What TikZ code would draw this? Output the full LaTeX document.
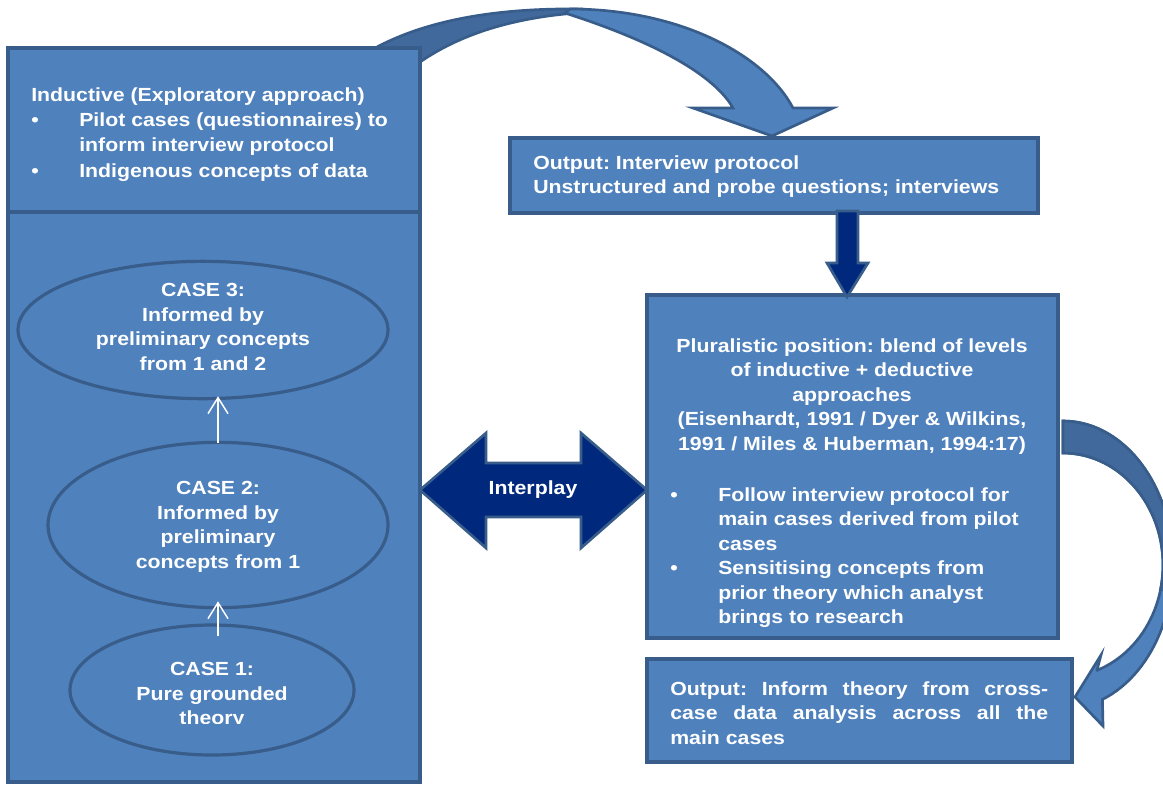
\documentclass[tikz,border=0pt]{standalone}
\usepackage{fontspec}
\setmainfont{Liberation Sans}[FakeStretch=1.12]
\usetikzlibrary{fit,shapes.geometric,arrows.meta}
\definecolor{boxfill}{HTML}{4F81BD}
\definecolor{boxline}{HTML}{385D8A}
\definecolor{ribbon}{HTML}{41699C}
\definecolor{navy}{HTML}{00297E}
\newcommand\diagfont{\fontsize{14.25pt}{18.4pt}\selectfont\bfseries\frenchspacing}
\begin{document}
\begin{tikzpicture}[x=0.75pt,y=-0.75pt,
  panel/.style={draw=boxline,fill=boxfill,line width=2.4pt,inner sep=0pt},
  oval/.style={ellipse,draw=boxline,fill=boxfill,line width=2.4pt,inner sep=0pt},
  band/.style={draw=boxline,line width=2pt,line join=miter},
  txt/.style={text=white,font=\diagfont,inner sep=0pt},
  upflow/.style={draw=white,line width=1.1pt,-{Straight Barb[length=12pt,width=15pt,line width=1.1pt]}}]
\useasboundingbox (0,0) rectangle (1163,785);
\fill[white] (0,0) rectangle (1163,785);

% curved ribbon arrow from the inductive panel to the interview protocol
\path[band,fill=ribbon] (377,47) .. controls (430,19) and (500,8) .. (580,9)
  -- (576,13) .. controls (500,19) and (452,40) .. (420,62) -- cycle;
\path[band,fill=boxfill] (570,9) .. controls (680,9) and (765,55) .. (793,108)
  -- (833,108) -- (772,136) -- (693,108) -- (733,108)
  .. controls (720,85) and (680,50) .. (565,13) -- cycle;

% curved ribbon arrow from the pluralistic panel to the final output
\def\rightribbon{plot[domain=-90:69,samples=60] ({1063+110*cos(\x)},{565+144*sin(\x)})
  -- (1103,726) -- (1075,697) -- (1101,655) -- (1097,670)
  -- plot[domain=70:-90,samples=60] ({1063+100*cos(\x)},{565+112*sin(\x)}) -- cycle}
\path[band,fill=boxfill] \rightribbon;
\begin{scope}
  \clip (1000,380) rectangle (1200,590);
  \path[band,fill=ribbon] \rightribbon;
\end{scope}

% left column
\node[panel,fit={(8,48) (420,212)}] (inductive) {};
\node[panel,fit={(8,212) (420,782)}] (cases) {};
\node[txt,anchor=north west,align=left,font={\fontsize{14.25pt}{19pt}\selectfont\bfseries}] (indtext) at (31,87)
  {Inductive (Exploratory approach)\\
   \makebox[36pt][l]{\textbullet}Pilot cases (questionnaires) to\\
   \hspace*{36pt}inform interview protocol\\
   \makebox[36pt][l]{\textbullet}Indigenous concepts of data};

\node[oval,minimum width=277.5pt,minimum height=103pt] (case3) at (203,330) {};
\node[oval,minimum width=255pt,minimum height=124pt] (case2) at (218,525) {};
\node[oval,minimum width=213pt,minimum height=97.5pt] (case1) at (212,690) {};

\node[txt,anchor=north,align=center] (case3text) at (203,283)
  {CASE 3:\\ Informed by\\ preliminary concepts\\ from 1 and 2};
\node[txt,anchor=north,align=center] (case2text) at (218,481)
  {CASE 2:\\ Informed by\\ preliminary\\ concepts from 1};
\begin{scope}
  \clip (60,640) rectangle (370,723);
  \node[txt,anchor=north,align=center] (case1text) at (212,662)
    {CASE 1:\\ Pure grounded\\ theory};
\end{scope}

\draw[upflow,shorten <=-9.75pt,shorten >=-6pt] (case2.south |- case1.north) -- (case2.south);
\draw[upflow,shorten <=-1.5pt,shorten >=-3pt] (case2.north) -- (case3.south -| case2.north);

% right column
\node[panel,fit={(510,138) (1038,213)}] (protocol) {};
\node[txt,anchor=north west,align=left] (protocoltext) at (533,155)
  {Output: Interview protocol\\ Unstructured and probe questions; interviews};

\node[panel,fit={(647,295) (1058,638)}] (plural) {};
\node[txt,anchor=north,align=center] (pluraltext) at (852,338)
  {Pluralistic position: blend of levels\\ of inductive + deductive\\ approaches\\
   (Eisenhardt, 1991 / Dyer \& Wilkins,\\ 1991 / Miles \& Huberman, 1994:17)};
\begin{scope}
  \clip (650,470) rectangle (1055,626);
  \node[txt,anchor=north west,align=left] (pluralitems) at (670,487)
    {\makebox[36pt][l]{\textbullet}Follow interview protocol for\\
     \hspace*{36pt}main cases derived from pilot\\
     \hspace*{36pt}cases\\
     \makebox[36pt][l]{\textbullet}Sensitising concepts from\\
     \hspace*{36pt}prior theory which analyst\\
     \hspace*{36pt}brings to research};
\end{scope}

\node[panel,fit={(647,659) (1072,762)}] (theory) {};
\node[txt,anchor=north west,align=left] (theorytext) at (670,681)
  {\makebox[283.5pt][s]{Output: Inform theory from cross-}\\
   \makebox[283.5pt][s]{case data analysis across all the}\\
   main cases};

% protocol feeds the pluralistic position
\path[band,fill=navy] (837,211) -- (837,263) -- (827,263) -- (847,297)
  -- (868,263) -- (858,263) -- (858,211) -- cycle;

% two-way interplay between the columns
\path[band,fill=navy] (420,490) -- (486,433) -- (486,463) -- (581,463) -- (581,433)
  -- (647,490) -- (581,548) -- (581,517) -- (486,517) -- (486,548) -- cycle;
\node[txt] (interplay) at (533,490) {Interplay};
\end{tikzpicture}
\end{document}
